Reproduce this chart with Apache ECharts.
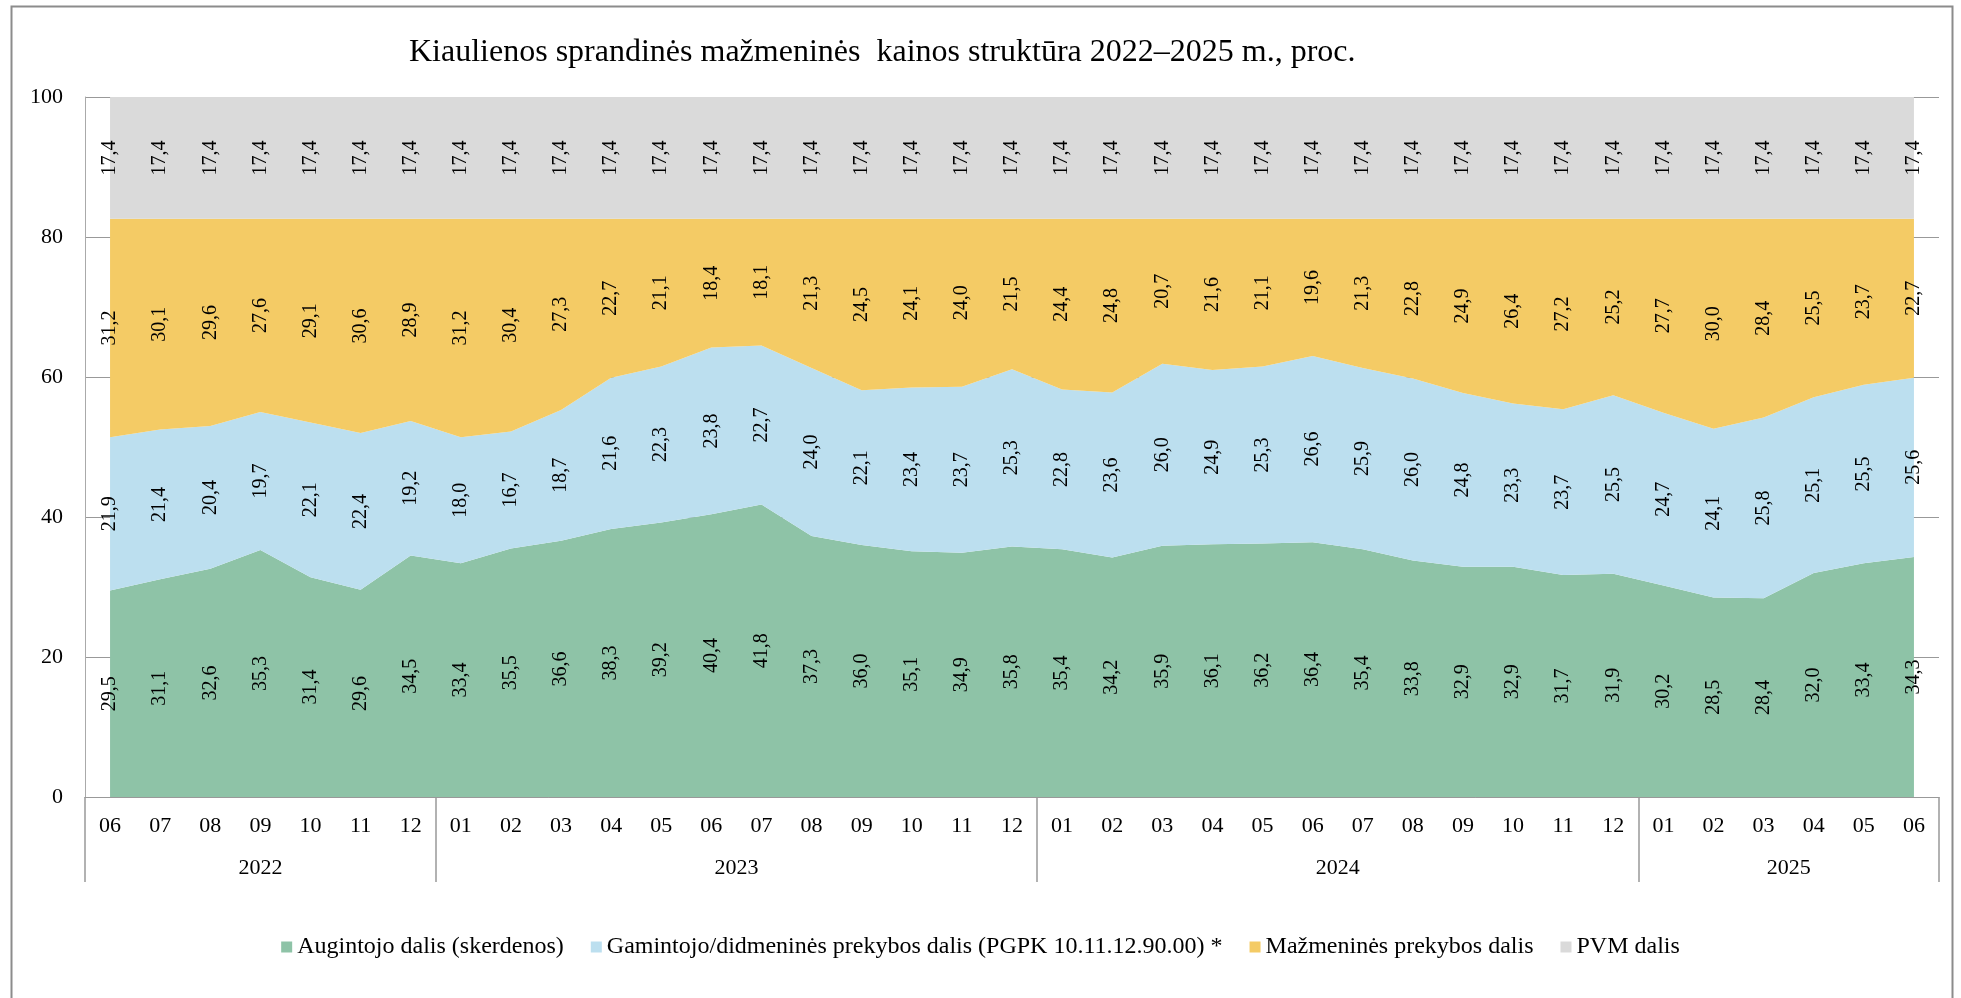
<!DOCTYPE html>
<html>
<head>
<meta charset="utf-8">
<script src="https://cdn.jsdelivr.net/npm/echarts@6/dist/echarts.min.js"></script>
<style>
  html, body { margin: 0; padding: 0; background: #fff; }
  #chart { width: 1961px; height: 998px; }
</style>
</head>
<body>
<div id="chart"></div>
<script>
// ---- Data ----
const months = ['06','07','08','09','10','11','12',
  '01','02','03','04','05','06','07','08','09','10','11','12',
  '01','02','03','04','05','06','07','08','09','10','11','12',
  '01','02','03','04','05','06'];
const years = ['2022', '2023', '2024', '2025'];
const monthsPerYear = [7, 12, 12, 6];

const seriesNames = [
  'Augintojo dalis (skerdenos)',
  'Gamintojo/didmeninės prekybos dalis (PGPK 10.11.12.90.00) *',
  'Mažmeninės prekybos dalis',
  'PVM dalis'
];
const augintojo = [29.5, 31.1, 32.6, 35.3, 31.4, 29.6, 34.5,
  33.4, 35.5, 36.6, 38.3, 39.2, 40.4, 41.8, 37.3, 36.0, 35.1, 34.9, 35.8,
  35.4, 34.2, 35.9, 36.1, 36.2, 36.4, 35.4, 33.8, 32.9, 32.9, 31.7, 31.9,
  30.2, 28.5, 28.4, 32.0, 33.4, 34.3];
const gamintojo = [21.9, 21.4, 20.4, 19.7, 22.1, 22.4, 19.2,
  18.0, 16.7, 18.7, 21.6, 22.3, 23.8, 22.7, 24.0, 22.1, 23.4, 23.7, 25.3,
  22.8, 23.6, 26.0, 24.9, 25.3, 26.6, 25.9, 26.0, 24.8, 23.3, 23.7, 25.5,
  24.7, 24.1, 25.8, 25.1, 25.5, 25.6];
const mazmenines = [31.2, 30.1, 29.6, 27.6, 29.1, 30.6, 28.9,
  31.2, 30.4, 27.3, 22.7, 21.1, 18.4, 18.1, 21.3, 24.5, 24.1, 24.0, 21.5,
  24.4, 24.8, 20.7, 21.6, 21.1, 19.6, 21.3, 22.8, 24.9, 26.4, 27.2, 25.2,
  27.7, 30.0, 28.4, 25.5, 23.7, 22.7];
const pvm = [17.4, 17.4, 17.4, 17.4, 17.4, 17.4, 17.4,
  17.4, 17.4, 17.4, 17.4, 17.4, 17.4, 17.4, 17.4, 17.4, 17.4, 17.4, 17.4,
  17.4, 17.4, 17.4, 17.4, 17.4, 17.4, 17.4, 17.4, 17.4, 17.4, 17.4, 17.4,
  17.4, 17.4, 17.4, 17.4, 17.4, 17.4];
const yTicks = { min: 0, max: 100, interval: 20 };

// ---- Styling ----
const colors = ['#8EC3A7', '#BCDFEF', '#F4CB65', '#DADADA'];
const FONT = "'Liberation Serif', 'Times New Roman', serif";
const values = [augintojo, gamintojo, mazmenines, pvm];

// Half-band helper axis for the year row (2*N+1 points on band boundaries/centres)
const nHalf = months.length * 2 + 1;
const halfData = [];
for (let i = 0; i < nHalf; i++) halfData.push('h' + i);
const boundarySet = new Set([0]);
const yearLabelAt = {};
let cum = 0;
monthsPerYear.forEach((n, k) => {
  yearLabelAt[cum * 2 + n] = years[k];
  cum += n;
  boundarySet.add(cum * 2);
});

const fmt = v => Number(v).toFixed(1).replace('.', ',');

const series = [];
values.forEach((arr, i) => {
  series.push({
    name: seriesNames[i],
    type: 'line',
    stack: 'area',
    data: arr,
    symbol: 'none',
    lineStyle: { width: 0 },
    areaStyle: { color: colors[i], opacity: 1 },
    itemStyle: { color: colors[i] },
    silent: true,
    z: 2
  });
});
values.forEach((arr, i) => {
  series.push({
    name: 'lbl' + i,
    type: 'bar',
    stack: 'labels',
    data: arr,
    barWidth: 1,
    itemStyle: { color: 'rgba(0,0,0,0)' },
    silent: true,
    z: 5,
    label: {
      show: true,
      position: 'inside',
      rotate: 90,
      formatter: p => fmt(p.value),
      fontFamily: FONT,
      fontSize: 20,
      color: '#000'
    }
  });
});

const chart = echarts.init(document.getElementById('chart'), null, { renderer: 'canvas' });
chart.setOption({
  backgroundColor: '#fff',
  animation: false,
  title: {
    text: 'Kiaulienos sprandinės mažmeninės  kainos struktūra 2022–2025 m., proc.',
    left: 404,
    top: 32,
    textStyle: { fontFamily: FONT, fontSize: 32, fontWeight: 'normal', color: '#000' }
  },
  legend: {
    data: seriesNames,
    left: 'center',
    top: 930,
    icon: 'rect',
    itemWidth: 11,
    itemHeight: 11,
    itemGap: 27,
    textStyle: { fontFamily: FONT, fontSize: 24, color: '#000' }
  },
  grid: { left: 85, right: 22, top: 97, bottom: 201, containLabel: false },
  xAxis: [
    {
      type: 'category',
      data: months,
      boundaryGap: true,
      position: 'bottom',
      axisLine: { show: true, lineStyle: { color: '#999', width: 1 } },
      axisTick: { show: false },
      axisLabel: { interval: 0, margin: 18, fontFamily: FONT, fontSize: 22, color: '#000' }
    },
    {
      type: 'category',
      data: halfData,
      boundaryGap: false,
      position: 'bottom',
      axisLine: { show: false },
      axisTick: {
        show: true,
        length: 85,
        interval: (idx) => boundarySet.has(idx),
        lineStyle: { color: '#999', width: 1.5 }
      },
      axisLabel: {
        interval: (idx) => yearLabelAt[idx] !== undefined,
        formatter: (v, idx) => yearLabelAt[idx] || '',
        margin: 60,
        fontFamily: FONT, fontSize: 22, color: '#000'
      },
      splitLine: { show: false }
    }
  ],
  yAxis: {
    type: 'value',
    min: yTicks.min,
    max: yTicks.max,
    interval: yTicks.interval,
    axisLine: { show: true, lineStyle: { color: '#aaa', width: 1 } },
    axisTick: { show: false },
    axisLabel: { margin: 22, fontFamily: FONT, fontSize: 22, color: '#000' },
    splitLine: { show: true, lineStyle: { color: '#999', width: 1 } }
  },
  graphic: [{
    type: 'rect',
    left: 9, top: 4,
    shape: { width: 1941, height: 1000 },
    style: { fill: 'none', stroke: '#8c8c8c', lineWidth: 2 },
    silent: true, z: 100
  }],
  series: series
});
</script>
</body>
</html>
